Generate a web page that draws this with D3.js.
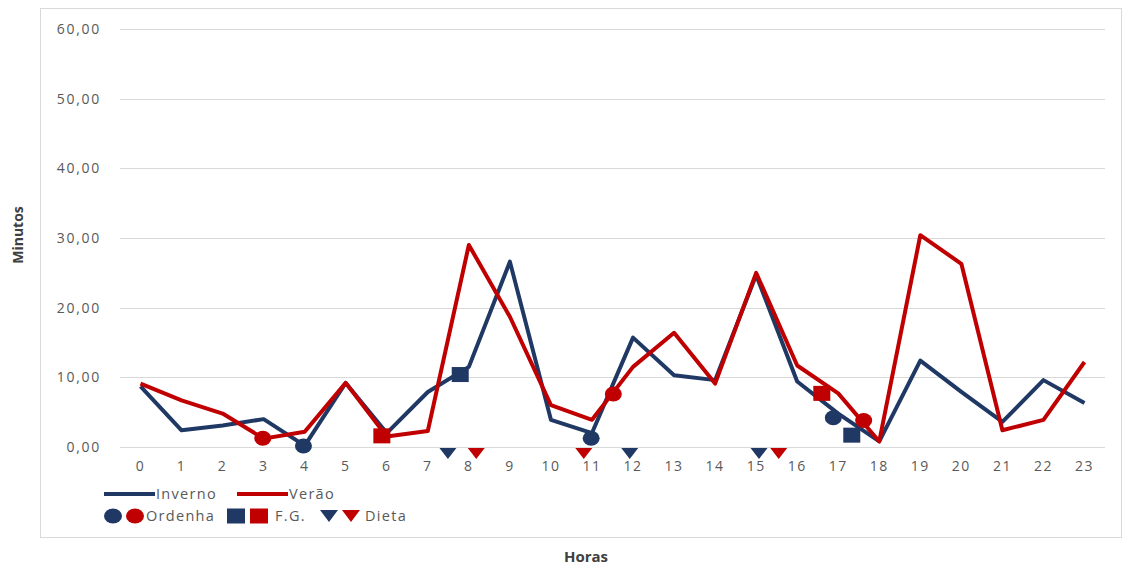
<!DOCTYPE html>
<html><head><meta charset="utf-8">
<script src="https://cdn.jsdelivr.net/npm/d3@7"></script>
<style>
body{margin:0;background:#fff}
text{font-family:"Open Sans",sans-serif}
</style>
</head><body>
<svg id="c" width="1124" height="565"></svg>
<script>
// ---- data ----
const hourLabels = ["0","1","2","3","4","5","6","7","8","9","10","11","12","13","14","15","16","17","18","19","20","21","22","23"];
const yTicks = [0,10,20,30,40,50,60];
const inverno = [8.7,2.4,3.1,4.0,0.2,9.2,2.0,7.9,11.5,26.6,3.9,2.0,15.7,10.3,9.6,24.7,9.4,4.8,0.8,12.4,7.9,3.6,9.6,6.3];
const verao   = [9.1,6.7,4.8,1.2,2.2,9.2,1.5,2.3,29.0,18.7,6.0,3.9,11.5,16.4,9.1,25.0,11.7,7.7,0.8,30.4,26.3,2.4,3.9,12.2];
// event markers (x = hour position, y = minutes)
const ordenhaInvernoX = [3.97,10.98,16.88];
const ordenhaInvernoY = [0.15,1.25,4.2];
const ordenhaVeraoX   = [2.98,11.52,17.62];
const ordenhaVeraoY   = [1.25,7.6,3.8];
const fgInvernoX = [7.79,17.33];
const fgInvernoY = [10.4,1.7];
const fgVeraoX   = [5.88,16.6];
const fgVeraoY   = [1.6,7.7];
const dietaInvernoX = [7.49,11.92,15.07];
const dietaVeraoX   = [8.18,10.8,15.55];
const seriesNames = ["Inverno","Verão"];
const markerNames = ["Ordenha","F.G.","Dieta"];
const colors = {inv:"#1F3864", ver:"#C00000"};

// ---- layout ----
const svg = d3.select("#c");
const L = 120, R = 1105, T = 29, B = 447;

svg.append("rect").attr("x",40.5).attr("y",8.5).attr("width",1081).attr("height",529)
  .attr("fill","#fff").attr("stroke","#d9d9d9").attr("stroke-width",1);

const xBand = d3.scaleBand().domain(hourLabels).range([L,R]).paddingInner(0).paddingOuter(0);
const xPos = d3.scaleLinear().domain([-0.5,23.5]).range([L,R]);
const y = d3.scaleLinear().domain([0,60]).range([B,T]);

// gridlines
svg.append("g").selectAll("line").data(yTicks).join("line")
  .attr("x1",L).attr("x2",R).attr("y1",d=>Math.round(y(d))+0.5).attr("y2",d=>Math.round(y(d))+0.5)
  .attr("stroke","#d9d9d9").attr("stroke-width",1);

// y axis labels
const yAxis = d3.axisLeft(y).tickValues(yTicks).tickSize(0).tickPadding(0)
  .tickFormat(d=>d3.format(".2f")(d).replace(".",","));
const gy = svg.append("g").attr("transform",`translate(101,0)`).call(yAxis);
gy.select(".domain").remove();
gy.selectAll("text").attr("fill","#595959").style("font-size","14px").style("letter-spacing","1.7px");

// x axis labels
const xAxis = d3.axisBottom(xBand).tickSize(0).tickPadding(0);
const gx = svg.append("g").attr("transform",`translate(0,${B+14})`).call(xAxis);
gx.select(".domain").remove();
gx.selectAll("text").attr("fill","#595959").style("font-size","14px").style("letter-spacing","1.5px");

// lines
const line = d3.line().x((d,i)=>xBand(hourLabels[i])+xBand.bandwidth()/2).y(d=>y(d));
svg.append("path").datum(inverno).attr("d",line).attr("fill","none")
  .attr("stroke",colors.inv).attr("stroke-width",4).attr("stroke-linejoin","round");
svg.append("path").datum(verao).attr("d",line).attr("fill","none")
  .attr("stroke",colors.ver).attr("stroke-width",4).attr("stroke-linejoin","round");

// markers
function circles(xs,ys,col){
  svg.append("g").selectAll("ellipse").data(xs).join("ellipse")
    .attr("cx",d=>xPos(d)).attr("cy",(d,i)=>y(ys[i])).attr("rx",8.5).attr("ry",7.5).attr("fill",col);
}
function squares(xs,ys,col){
  svg.append("g").selectAll("rect").data(xs).join("rect")
    .attr("x",d=>xPos(d)-8.5).attr("y",(d,i)=>y(ys[i])-7.5).attr("width",17).attr("height",15).attr("fill",col);
}
function tris(xs,col){
  svg.append("g").selectAll("path").data(xs).join("path")
    .attr("d",d=>{const cx=xPos(d), t=y(0)+1; return `M${cx-8.5},${t}L${cx+8.5},${t}L${cx},${t+11}Z`;})
    .attr("fill",col);
}
circles(ordenhaInvernoX,ordenhaInvernoY,colors.inv);
circles(ordenhaVeraoX,ordenhaVeraoY,colors.ver);
squares(fgInvernoX,fgInvernoY,colors.inv);
squares(fgVeraoX,fgVeraoY,colors.ver);
tris(dietaInvernoX,colors.inv);
tris(dietaVeraoX,colors.ver);

// legend
const lg = svg.append("g");
const ts = {fill:"#595959", size:"14.5px", ls:"1.3px"};
function ltext(x,yy,s){
  lg.append("text").attr("x",x).attr("y",yy).attr("dy","0.35em").text(s)
    .attr("fill",ts.fill).style("font-size",ts.size).style("letter-spacing",ts.ls);
}
const r1 = 494, r2 = 516;
lg.append("line").attr("x1",104).attr("x2",155).attr("y1",r1).attr("y2",r1).attr("stroke",colors.inv).attr("stroke-width",4);
ltext(156,r1,seriesNames[0]);
lg.append("line").attr("x1",237).attr("x2",288).attr("y1",r1).attr("y2",r1).attr("stroke",colors.ver).attr("stroke-width",4);
ltext(289,r1,seriesNames[1]);
lg.append("ellipse").attr("cx",113).attr("cy",r2).attr("rx",9).attr("ry",7.5).attr("fill",colors.inv);
lg.append("ellipse").attr("cx",135).attr("cy",r2).attr("rx",9).attr("ry",7.5).attr("fill",colors.ver);
ltext(146,r2,markerNames[0]);
lg.append("rect").attr("x",227).attr("y",r2-7.5).attr("width",18).attr("height",15).attr("fill",colors.inv);
lg.append("rect").attr("x",250).attr("y",r2-7.5).attr("width",18).attr("height",15).attr("fill",colors.ver);
ltext(275,r2,markerNames[1]);
lg.append("path").attr("d",`M320,${r2-6}L338,${r2-6}L329,${r2+6}Z`).attr("fill",colors.inv);
lg.append("path").attr("d",`M342,${r2-6}L360,${r2-6}L351,${r2+6}Z`).attr("fill",colors.ver);
ltext(365,r2,markerNames[2]);

// axis titles
svg.append("text").attr("transform","translate(18,235) rotate(-90)").attr("text-anchor","middle")
  .attr("dy","0.35em").text("Minutos").attr("fill","#404040").style("font-size","14px").style("font-weight","bold");
svg.append("text").attr("x",586).attr("y",557).attr("text-anchor","middle").attr("dy","0.35em")
  .text("Horas").attr("fill","#404040").style("font-size","15px").style("font-weight","bold");
</script>
</body></html>
